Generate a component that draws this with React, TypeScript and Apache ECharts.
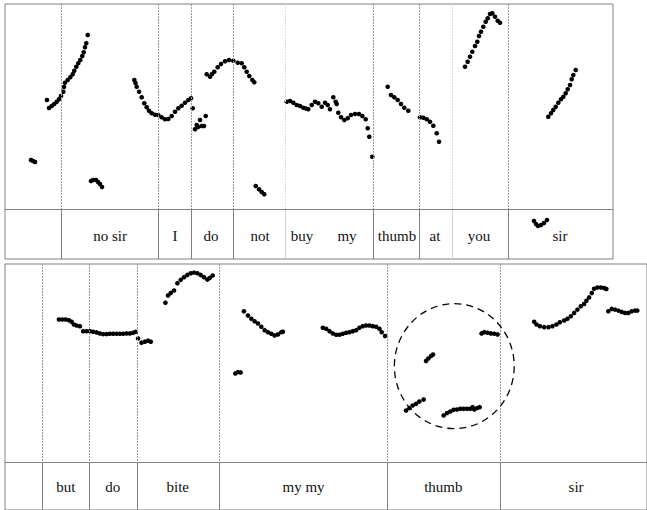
import React, { useEffect, useRef } from "react";
import * as echarts from "echarts";

// ---- Upper panel: pitch track (time units, pitch units on an inverted scale) ----
const topPitch: number[][] = [
  [31, 160], [33, 161], [35, 162],
  [47, 100], [49, 108], [51.7, 106], [54.3, 104], [56.7, 101.7], [59, 99.3], [61, 96], [63.3, 91.7], [64, 87],
  [65, 82.7], [67.7, 80], [70.3, 77.3], [72.7, 74.3], [74.3, 70.7], [76.3, 66.7], [78.3, 63.3], [80.3, 60],
  [82.3, 56], [83.7, 52.3], [85, 47.3], [86.3, 43.3], [87.7, 35],
  [91, 181], [93, 180], [96, 180], [98, 182], [100, 184], [102, 187],
  [134.3, 80], [135.5, 83], [136.7, 86.7], [139, 91.7], [141.7, 97.3], [144.3, 103.3], [146.7, 107.3], [149, 110.7],
  [151.7, 113.3], [155, 114.7], [158.3, 115], [161.7, 117.3], [165, 119.3], [168.3, 119], [171.7, 116], [175, 111.7],
  [178.3, 108.3], [181.7, 105.7], [185, 102.7], [188.3, 100], [191, 98.3],
  [192.7, 108.3], [205.7, 116], [200, 120], [196.7, 125], [195, 129.3], [201.7, 126], [204, 126], [198, 127],
  [206.7, 74.3], [210, 76.7], [212, 74], [214.3, 71.7], [217.7, 67.3], [221, 64], [225, 61.3], [229, 60],
  [233.3, 60.7], [237.7, 62.7], [241.7, 63.3], [244.3, 67.3], [246.7, 71.7], [249.3, 76], [252.3, 80], [254.3, 82.3],
  [255.7, 186], [259, 189.3], [261.7, 192], [264.3, 194.3],
  [286.7, 101.7], [290, 101], [293.3, 102.7], [296.7, 105], [300, 106], [303.3, 107.7], [306, 108.5], [308.3, 109.3],
  [311.7, 105], [315, 101.7], [318.3, 103.3], [321.7, 106.7], [325, 102.7], [327.7, 105], [330, 109.3],
  [333.3, 97.3], [335.7, 101.7], [336.7, 104], [338.3, 112.7], [341, 117.3], [344.3, 120], [347.7, 118.3],
  [351, 115], [355, 114], [359, 114], [362.3, 116], [365.7, 119.3], [367.7, 128.3], [369.3, 136.7], [372.3, 156.7],
  [387.7, 86.7], [391, 95], [394.3, 97.3], [397.7, 100], [401, 104], [404.3, 107.7], [408.3, 110.7],
  [420, 117.3], [423.3, 117.7], [426.7, 119.3], [430, 121.7], [433.3, 125.7], [436.7, 133.3], [439, 141.7],
  [465, 66.7], [467.7, 61.7], [470, 56.7], [472.3, 51.7], [475, 46], [477.3, 41.7], [479, 36], [481, 31.7],
  [483.3, 26.7], [485.7, 21.7], [487.7, 18.3], [490, 14], [492.3, 13.3], [495, 16.7], [497.7, 20.7], [500, 22.7],
  [548.3, 116.7], [551, 113.3], [553.3, 110], [555.7, 106.7], [558.3, 102.7], [561, 99.3], [563.3, 96.7],
  [565.7, 93.3], [567.7, 89.3], [570, 85], [571.7, 79.3], [573.3, 75], [575.7, 70],
  [534, 221], [536, 224], [538, 226], [541, 225], [544, 223], [547, 220],
];

// ---- Lower panel: pitch track ----
const bottomPitch: number[][] = [
  [59, 320], [62.3, 320], [65.7, 320], [69, 320.7], [71.7, 322.3], [74, 325], [76.7, 326], [80, 326.7],
  [83.3, 331.7], [86.7, 331.7], [90, 331.7], [93.3, 332.3], [96.7, 333], [100, 334], [103.3, 334.7], [106.7, 334.7],
  [110, 334.3], [113.3, 334.3], [116.7, 334.3], [120, 334.3], [123.3, 334.3], [126.7, 334], [130, 334], [133.3, 333.3], [136, 332.3],
  [138.3, 339], [141.7, 343.3], [145, 342.3], [148.3, 341.3], [151, 342.3],
  [165.7, 303], [168.3, 295.7], [171, 293.3], [174.3, 290.7], [177.7, 283.3], [181, 280], [184.3, 277.3], [187.7, 275],
  [191, 273.3], [194.3, 272.7], [197.7, 273.3], [201, 275], [204.3, 277.3], [207.7, 279.7], [210, 278], [213, 275.7],
  [244.3, 311.7], [248.3, 316], [251.7, 319.3], [255, 321.7], [258.3, 324], [261.7, 327.3], [265, 330.7],
  [268.3, 332.7], [271.7, 334.3], [275, 336], [278.3, 335], [281.7, 332.7], [283.3, 332.3],
  [235.7, 374.3], [238.3, 373], [241, 373.3],
  [323.3, 328.3], [326.7, 329.3], [330, 331.7], [333.3, 334], [336.7, 335.3], [340, 335.3], [343.3, 334.3],
  [346.7, 333.3], [350, 332.7], [353.3, 331.7], [356.7, 330.7], [360, 328.3], [363.3, 326.7], [366.7, 326],
  [370, 326], [373.3, 326.7], [376.7, 327.3], [380, 329.3], [382.3, 332.7], [385.7, 336.7],
  [482.3, 334], [485, 332.7], [488.3, 333.3], [491.7, 334], [495, 334.3], [498.3, 335],
  [426.7, 361.7], [429, 359.3], [431.7, 356.7], [433.7, 355.3],
  [406.7, 411.7], [410, 409.3], [413.3, 406.7], [416.7, 405], [420, 402.7], [424.3, 400.7],
  [444.3, 416.7], [447.7, 414.3], [451, 412.7], [454.3, 411], [457.7, 410.7], [461, 410], [464.3, 410],
  [467.7, 410], [471, 410], [473.3, 408.3], [475, 410.7], [477.7, 409.3], [480.3, 408.3],
  [535, 322.3], [537.3, 325], [540.7, 326.7], [545, 327.7], [549.3, 327.7], [553.3, 326.7], [557.3, 325],
  [560.7, 322.7], [565, 321], [568.3, 319.3], [571.7, 316.7], [575, 313.3], [578.3, 310], [581.7, 306.7],
  [585, 304.3], [587.3, 301], [590, 297.7], [592.7, 293.3], [595, 289], [598.3, 287.7], [601.7, 287.7],
  [605, 288.3], [607.3, 289.3],
  [609.3, 311.7], [612.7, 309.3], [616, 310], [619.3, 311], [622.7, 312.3], [626, 313.3], [629.3, 313.3],
  [632.7, 311.7], [636, 311], [638.3, 311],
];

// word boundaries and labels
const topBoundaries = [61, 158, 191, 233, 373, 419, 508];
const topFaintBoundaries = [285, 452];
const topWords = ["no sir", "I", "do", "not", "buy", "my", "thumb", "at", "you", "sir"];
const topWordTimes = [110, 175, 211, 260, 302, 347, 397, 435, 479, 560];

const bottomBoundaries = [42, 89, 137, 220, 388, 501];
const bottomWords = ["but", "do", "bite", "my my", "thumb", "sir"];
const bottomWordTimes = [66, 113, 178, 304, 444, 577];

// panel extents (time / pitch units)
const TOP_T = [5, 613];
const TOP_P = [4, 259];
const TOP_TIER = 209;
const TOP_LABEL_P = 236;
const BOT_T = [5, 648];
const BOT_P = [264, 512];
const BOT_TIER = 464;
const BOT_LABEL_P = 489;

// highlighted region (ellipse) in lower panel
const circleCenter = [455, 367];
const circleRadius = [60, 63];

const GRID_COLOR = "#808080";
const DOT_COLOR = "#000000";
const SERIF = "Liberation Serif";

function vLines(times: number[], p0: number, p1: number, color: string, type: any) {
  return times.map((t) => [
    { coord: [t, p0], lineStyle: { color, type, width: 1 } },
    { coord: [t, p1] },
  ]);
}

export default function App() {
  const ref = useRef<HTMLDivElement>(null);
  useEffect(() => {
    if (!ref.current) return;
    const chart = echarts.init(ref.current, undefined, { renderer: "svg" });
    const labelSeries = (xi: number, words: string[], times: number[], p: number) => ({
      type: "scatter",
      xAxisIndex: xi,
      yAxisIndex: xi,
      symbolSize: 1,
      itemStyle: { color: "rgba(255,255,255,0)", opacity: 1 },
      silent: true,
      data: words.map((w, i) => ({ name: w, value: [times[i], p] })),
      label: {
        show: true,
        position: "inside",
        formatter: "{b}",
        fontFamily: SERIF,
        fontSize: 15,
        color: "#111111",
        opacity: 1,
        textBorderWidth: 0,
      },
      z: 5,
    });
    chart.setOption({
      animation: false,
      backgroundColor: "#ffffff",
      textStyle: { fontFamily: SERIF },
      grid: [
        { left: 5, top: 4, width: 608, height: 255, show: true, borderColor: GRID_COLOR, borderWidth: 1, backgroundColor: "transparent" },
        { left: 5, top: 264, width: 643, height: 248, show: true, borderColor: GRID_COLOR, borderWidth: 1, backgroundColor: "transparent" },
      ],
      xAxis: [
        { type: "value", gridIndex: 0, min: TOP_T[0], max: TOP_T[1], show: false },
        { type: "value", gridIndex: 1, min: BOT_T[0], max: BOT_T[1], show: false },
      ],
      yAxis: [
        { type: "value", gridIndex: 0, min: TOP_P[0], max: TOP_P[1], inverse: true, show: false },
        { type: "value", gridIndex: 1, min: BOT_P[0], max: BOT_P[1], inverse: true, show: false },
      ],
      series: [
        {
          type: "scatter",
          xAxisIndex: 0,
          yAxisIndex: 0,
          symbolSize: 4.6,
          itemStyle: { color: DOT_COLOR, opacity: 1 },
          data: topPitch,
          z: 3,
          markLine: {
            silent: true,
            symbol: "none",
            label: { show: false },
            data: [
              ...vLines(topBoundaries, TOP_P[0], TOP_TIER, "#9a9a9a", [2, 1]),
              ...vLines(topFaintBoundaries, TOP_P[0], TOP_TIER, "#dcdcdc", [2, 1]),
              ...vLines(topBoundaries, TOP_TIER, TOP_P[1], "#808080", "solid"),
              ...vLines(topFaintBoundaries, TOP_TIER, TOP_P[1], "#d0d0d0", "solid"),
              [
                { coord: [TOP_T[0], TOP_TIER], lineStyle: { color: GRID_COLOR, type: "solid", width: 1 } },
                { coord: [TOP_T[1], TOP_TIER] },
              ],
            ],
          },
        },
        {
          type: "scatter",
          xAxisIndex: 1,
          yAxisIndex: 1,
          symbolSize: 4.6,
          itemStyle: { color: DOT_COLOR, opacity: 1 },
          data: bottomPitch,
          z: 3,
          markLine: {
            silent: true,
            symbol: "none",
            label: { show: false },
            data: [
              ...vLines(bottomBoundaries, BOT_P[0], BOT_TIER, "#9a9a9a", [2, 1]),
              ...vLines(bottomBoundaries, BOT_TIER, BOT_P[1], "#808080", "solid"),
              [
                { coord: [BOT_T[0], BOT_TIER], lineStyle: { color: GRID_COLOR, type: "solid", width: 1 } },
                { coord: [BOT_T[1], BOT_TIER] },
              ],
            ],
          },
        },
        labelSeries(0, topWords, topWordTimes, TOP_LABEL_P),
        labelSeries(1, bottomWords, bottomWordTimes, BOT_LABEL_P),
      ],
    });
    const c = chart.convertToPixel({ xAxisIndex: 1, yAxisIndex: 1 } as any, circleCenter) as number[];
    const e = chart.convertToPixel(
      { xAxisIndex: 1, yAxisIndex: 1 } as any,
      [circleCenter[0] + circleRadius[0], circleCenter[1] + circleRadius[1]]
    ) as number[];
    chart.setOption({
      graphic: [
        {
          type: "ellipse",
          shape: { cx: c[0], cy: c[1], rx: Math.abs(e[0] - c[0]), ry: Math.abs(e[1] - c[1]) },
          style: { fill: "none", stroke: "#000", lineWidth: 1.3, lineDash: [7, 5] },
          silent: true,
          z: 10,
        },
      ],
    });
    return () => chart.dispose();
  }, []);
  return (
    <div
      ref={ref}
      style={{ position: "fixed", left: 0, top: 0, width: 647, height: 510, background: "#fff" }}
    />
  );
}
